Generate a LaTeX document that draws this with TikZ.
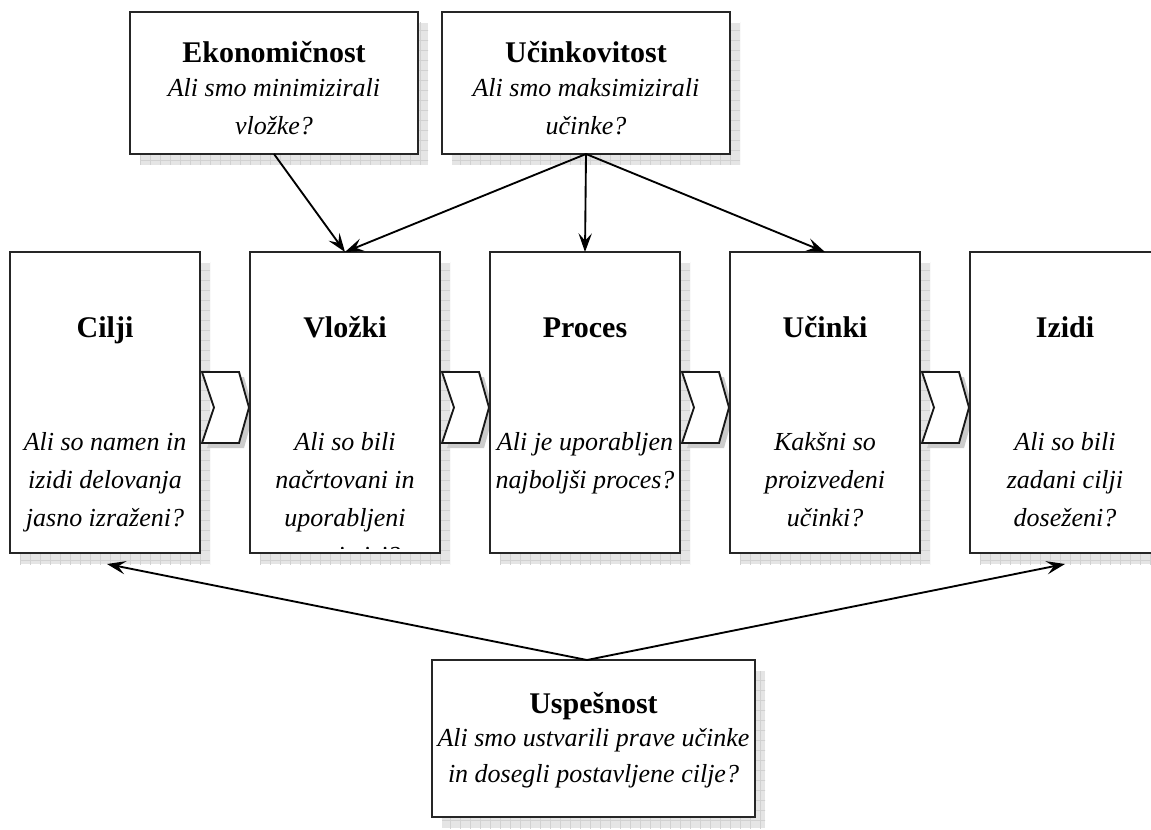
\documentclass[tikz,border=0pt]{standalone}
\usepackage{fontspec}
\setmainfont{Liberation Serif}
\usetikzlibrary{arrows.meta}
\pgfdeclarelayer{bglayer}
\pgfdeclarelayer{shadlayer}
\pgfsetlayers{bglayer,shadlayer,main}
\begin{document}
\begin{tikzpicture}[x=0.75pt,y=-0.75pt,
  box/.style={draw=black!85, line width=1.3pt, fill=white, inner sep=0pt, outer sep=0pt},
  rowbox/.style={box, minimum width=142.5pt, minimum height=225.75pt},
  topbox/.style={box, minimum width=216pt, minimum height=106.5pt},
  botbox/.style={box, minimum width=242.25pt, minimum height=117.75pt},
  titletext/.style={font=\fontsize{22.5}{27}\selectfont\bfseries, anchor=base, inner sep=0pt},
  questiontext/.style={font=\fontsize{19.5}{28.5}\selectfont\itshape, align=center, anchor=base, inner sep=0pt},
  arr/.style={line width=1.4pt, -{Stealth[length=14pt,width=10pt,inset=5.5pt]}},
  chev/.pic={
    \fill[gray!40] (5,5) -- (42,5) -- (52,40.5) -- (42,76) -- (5,76) -- (17,40.5) -- cycle;
    \draw[line width=1.4pt, draw=black!90, fill=white, line join=miter] (0,0) -- (37,0) -- (47,35.5) -- (37,71) -- (0,71) -- (12,35.5) -- cycle;
  },
]
\useasboundingbox (0,0) rectangle (1151,830);
\begin{pgfonlayer}{bglayer}
  \fill[white] (0,0) rectangle (1151,830);
\end{pgfonlayer}

% boxes
\node[topbox] (eko) at (274,83) {};
\node[topbox] (uci) at (586,83) {};
\node[rowbox] (cilji) at (105,402.5) {};
\node[rowbox] (vlozki) at (345,402.5) {};
\node[rowbox] (proces) at (585,402.5) {};
\node[rowbox] (ucinki) at (825,402.5) {};
\node[rowbox] (izidi) at (1065,402.5) {};
\node[botbox] (usp) at (593.5,738.5) {};

% shadows and chevrons
\begin{pgfonlayer}{shadlayer}
  \foreach \n in {eko,uci,cilji,vlozki,proces,ucinki,izidi,usp}{
    \begin{scope}
      \clip ([shift={(10,11)}]\n.south west) rectangle ([shift={(10,11)}]\n.north east);
      \fill[gray!20] ([shift={(10,11)}]\n.south west) rectangle ([shift={(10,11)}]\n.north east);
      \draw[gray!36, line width=0.4pt, step=7.5pt] ([shift={(0,30)}]\n.south west) grid ([shift={(30,0)}]\n.north east);
    \end{scope}
  }
  \path ([shift={(2,-30.5)}]cilji.east) pic {chev};
  \path ([shift={(2,-30.5)}]vlozki.east) pic {chev};
  \path ([shift={(2,-30.5)}]proces.east) pic {chev};
  \path ([shift={(2,-30.5)}]ucinki.east) pic {chev};
\end{pgfonlayer}

% texts (anchor base = baseline of the last line)
\node[titletext] (ekoT) at ([shift={(0,51)}]eko.north) {Ekonomičnost};
\node[questiontext] (ekoQ) at ([shift={(0,123)}]eko.north) {Ali smo minimizirali\\vložke?};
\node[titletext] (uciT) at ([shift={(0,51)}]uci.north) {Učinkovitost};
\node[questiontext] (uciQ) at ([shift={(0,123)}]uci.north) {Ali smo maksimizirali\\učinke?};

\node[titletext] (ciljiT) at ([shift={(0,85)}]cilji.north) {Cilji};
\node[questiontext] (ciljiQ) at ([shift={(0,274)}]cilji.north) {Ali so namen in\\izidi delovanja\\jasno izraženi?};
\node[titletext] (vlozkiT) at ([shift={(0,85)}]vlozki.north) {Vložki};
\begin{scope}
  \clip (vlozki.north west) rectangle ([shift={(0,-5)}]vlozki.south east);
  \node[questiontext] (vlozkiQ) at ([shift={(0,312)}]vlozki.north) {Ali so bili\\načrtovani in\\uporabljeni\\pravi viri?};
\end{scope}
\node[titletext] (procesT) at ([shift={(0,85)}]proces.north) {Proces};
\node[questiontext] (procesQ) at ([shift={(0,236)}]proces.north) {Ali je uporabljen\\najboljši proces?};
\node[titletext] (ucinkiT) at ([shift={(0,85)}]ucinki.north) {Učinki};
\node[questiontext] (ucinkiQ) at ([shift={(0,274)}]ucinki.north) {Kakšni so\\proizvedeni\\učinki?};
\node[titletext] (izidiT) at ([shift={(0,85)}]izidi.north) {Izidi};
\node[questiontext] (izidiQ) at ([shift={(0,274)}]izidi.north) {Ali so bili\\zadani cilji\\doseženi?};

\node[titletext] (uspT) at ([shift={(0,53)}]usp.north) {Uspešnost};
\node[questiontext, font=\fontsize{19.5}{26.5}\selectfont\itshape] (uspQ) at ([shift={(0,122)}]usp.north) {Ali smo ustvarili prave učinke\\in dosegli postavljene cilje?};

% connectors
\draw[arr] (eko.south) -- (vlozki.north);
\draw[arr] (uci.south) -- (vlozki.north);
\draw[arr] (uci.south) -- (proces.north);
\draw[arr] (uci.south) -- (ucinki.north);
\coordinate (uspTop) at ([shift={(-6.5,0)}]usp.north);
\coordinate (ciljiEnd) at ([shift={(2,11)}]cilji.south);
\coordinate (izidiEnd) at ([shift={(0,11)}]izidi.south);
\draw[arr] (uspTop) -- (ciljiEnd);
\draw[arr] (uspTop) -- (izidiEnd);
\end{tikzpicture}
\end{document}
